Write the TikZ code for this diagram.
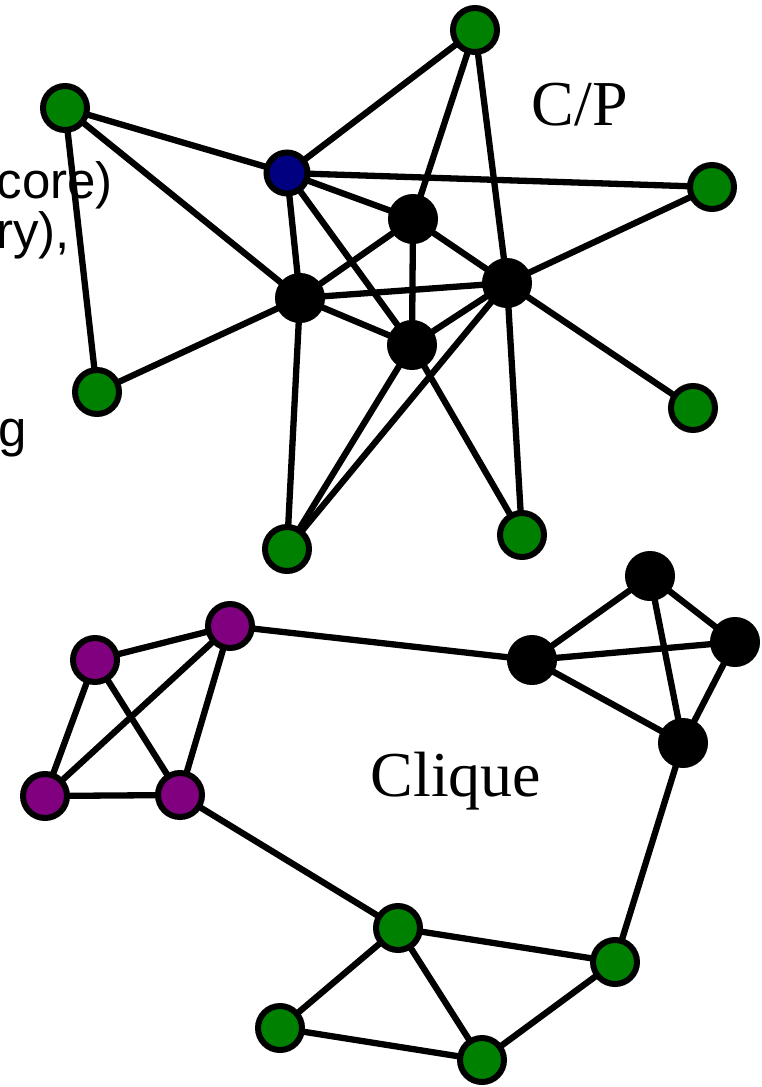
\documentclass[tikz,border=0pt]{standalone}
\usepackage{fontspec}
\setmainfont{Liberation Serif}
\newfontfamily\arialfont{Liberation Sans}
\usetikzlibrary{backgrounds}
\definecolor{gnode}{RGB}{0,128,0}
\definecolor{bnode}{RGB}{0,0,128}
\definecolor{pnode}{RGB}{128,0,128}
\tikzset{
  vtx/.style={circle, draw=black, line width=6pt, inner sep=0pt, minimum size=44pt},
  gv/.style={vtx, fill=gnode},
  bv/.style={vtx, fill=bnode, minimum size=41pt},
  pv/.style={vtx, fill=pnode},
  kv/.style={circle, fill=black, draw=black, line width=1pt, inner sep=0pt, minimum size=49pt},
  edge/.style={line width=6.3pt, black},
  lbl/.style={font=\fontsize{64}{74}\selectfont, inner sep=0pt},
  frag/.style={font=\arialfont\fontsize{51}{58}\selectfont, inner sep=0pt, anchor=base east}
}
\begin{document}
\begin{tikzpicture}[x=1pt,y=-1pt]
\useasboundingbox (0,0) rectangle (762,1087);
\clip (0,0) rectangle (762,1087);
\node[lbl, anchor=base] (cp) at (580,125) {C/P};
\node[lbl, anchor=base] (cl) at (456,796) {Clique};
% top graph
\node[gv] (G1) at (475,30) {};
\node[gv] (G2) at (65,108) {};
\node[bv] (B) at (287,173) {};
\node[gv] (G3) at (712,187) {};
\node[kv] (K1) at (413,219) {};
\node[kv] (K2) at (300,298) {};
\node[kv] (K3) at (507,283) {};
\node[kv] (K4) at (412,345) {};
\node[gv] (G4) at (97,392) {};
\node[gv] (G5) at (693,408) {};
\node[gv] (G6) at (287,549) {};
\node[gv] (G7) at (522,535) {};
% bottom graph
\node[pv] (P1) at (230,626) {};
\node[pv] (P2) at (95,660) {};
\node[pv] (P3) at (45,796) {};
\node[pv] (P4) at (180,795) {};
\node[kv] (C1) at (650,576) {};
\node[kv] (C2) at (532,660) {};
\node[kv] (C3) at (735,642) {};
\node[kv] (C4) at (683,743) {};
\node[gv] (L1) at (398,928) {};
\node[gv] (L2) at (615,962) {};
\node[gv] (L3) at (280,1028) {};
\node[gv] (L4) at (482,1060) {};
\begin{scope}[on background layer]
% text fragments (under the connectors)
\node[frag] (t1) at (113,198) {core)};
\node[frag] (t2) at (70,248) {ry),};
\node[frag] (t3) at (27,446) {g};
\draw[edge] (G1.center) -- (B.center);
\draw[edge] (G1.center) -- (K1.center);
\draw[edge] (G1.center) -- (K3.center);
\draw[edge] (G2.center) -- (B.center);
\draw[edge] (G2.center) -- (K2.center);
\draw[edge] (G2.center) -- (G4.center);
\draw[edge] (B.center) -- (G3.center);
\draw[edge] (B.center) -- (K1.center);
\draw[edge] (B.center) -- (K2.center);
\draw[edge] (B.center) -- (K4.center);
\draw[edge] (K1.center) -- (K2.center);
\draw[edge] (K1.center) -- (K4.center);
\draw[edge] (K1.center) -- (K3.center);
\draw[edge] (K2.center) -- (K3.center);
\draw[edge] (K2.center) -- (K4.center);
\draw[edge] (K3.center) -- (K4.center);
\draw[edge] (K2.center) -- (G4.center);
\draw[edge] (K2.center) -- (G6.center);
\draw[edge] (K3.center) -- (G3.center);
\draw[edge] (K3.center) -- (G5.center);
\draw[edge] (K3.center) -- (G7.center);
\draw[edge] (K4.center) -- (G7.center);
\draw[edge] (K4.center) -- (G6.center);
\draw[edge] (K3.center) -- (G6.center);
\draw[edge] (P1.center) -- (P2.center);
\draw[edge] (P1.center) -- (P3.center);
\draw[edge] (P1.center) -- (P4.center);
\draw[edge] (P2.center) -- (P3.center);
\draw[edge] (P2.center) -- (P4.center);
\draw[edge] (P3.center) -- (P4.center);
\draw[edge] (P1.center) -- (C2.center);
\draw[edge] (P4.center) -- (L1.center);
\draw[edge] (C1.center) -- (C2.center);
\draw[edge] (C1.center) -- (C3.center);
\draw[edge] (C1.center) -- (C4.center);
\draw[edge] (C2.center) -- (C3.center);
\draw[edge] (C2.center) -- (C4.center);
\draw[edge] (C3.center) -- (C4.center);
\draw[edge] (C4.center) -- (L2.center);
\draw[edge] (L1.center) -- (L2.center);
\draw[edge] (L1.center) -- (L3.center);
\draw[edge] (L1.center) -- (L4.center);
\draw[edge] (L3.center) -- (L4.center);
\draw[edge] (L4.center) -- (L2.center);
\end{scope}
\end{tikzpicture}
\end{document}
